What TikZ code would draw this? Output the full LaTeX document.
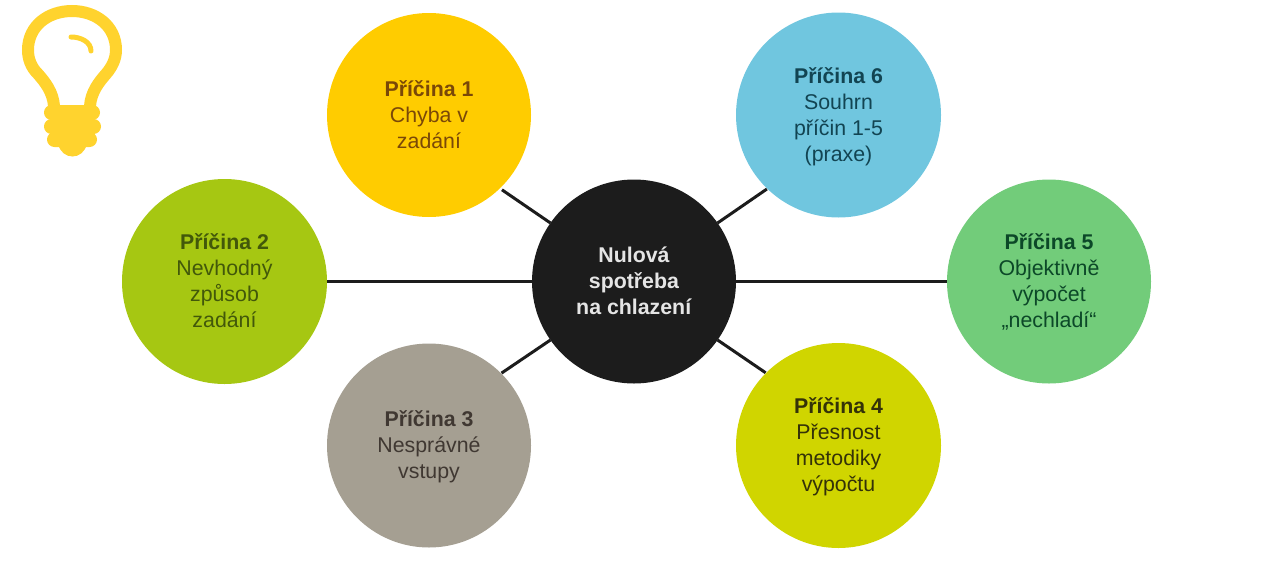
\documentclass[tikz,border=0pt]{standalone}
\usepackage{fontspec}
\setmainfont{Liberation Sans}
\definecolor{hubcol}{HTML}{1C1C1C}
\definecolor{bulbcol}{HTML}{FFD32E}
\tikzset{
  causenode/.style={circle,minimum size=204pt,inner sep=0pt,outer sep=0pt,align=center,
    font=\fontsize{21.33}{26}\selectfont},
  spoke/.style={draw=hubcol,line width=3pt},
  gapspoke/.style={spoke,shorten >=2.5pt},
  nearspoke/.style={spoke,shorten >=0.5pt}
}
\begin{document}
\begin{tikzpicture}[x=1pt,y=-1pt]
    \useasboundingbox (0,0) rectangle (1263,576);
    % circles
    \node[causenode,fill=hubcol,text=white!90!black] (hub) at (634,281.5) {\textbf{Nulová}\\\textbf{spotřeba}\\\textbf{na chlazení}\rule[-2pt]{0pt}{1pt}};
    \node[causenode,fill={rgb,255:red,255;green,204;blue,0},text={rgb,255:red,122;green,72;blue,8}] (cause1) at (429,115) {\textbf{Příčina 1}\\Chyba v\\zadání};
    \node[causenode,minimum size=205pt,fill={rgb,255:red,166;green,199;blue,18},text={rgb,255:red,66;green,88;blue,10}] (cause2) at (224.5,281.5) {\textbf{Příčina 2}\\Nevhodný\\způsob\\zadání\rule[-1pt]{0pt}{1pt}};
    \node[causenode,fill={rgb,255:red,165;green,159;blue,146},text={rgb,255:red,64;green,56;blue,50}] (cause3) at (429,445.5) {\rule{0pt}{18pt}\textbf{Příčina 3}\\Nesprávné\\vstupy};
    \node[causenode,minimum size=205pt,fill={rgb,255:red,208;green,213;blue,0},text={rgb,255:red,52;green,50;blue,8}] (cause4) at (838.5,445.5) {\rule{0pt}{18pt}\textbf{Příčina 4}\\Přesnost\\metodiky\\výpočtu};
    \node[causenode,fill={rgb,255:red,114;green,204;blue,122},text={rgb,255:red,12;green,72;blue,40}] (cause5) at (1049,281.5) {\textbf{Příčina 5}\\Objektivně\\výpočet\\„nechladí“\rule[-2pt]{0pt}{1pt}};
    \node[causenode,minimum size=205pt,fill={rgb,255:red,112;green,198;blue,223},text={rgb,255:red,18;green,68;blue,82}] (cause6) at (838.5,115) {\rule{0pt}{20pt}\textbf{Příčina 6}\\Souhrn\\příčin 1-5\\(praxe)};
    % spokes
    \draw[gapspoke] (hub.145) -- (cause1.-46);
    \draw[spoke] (hub.west) -- (cause2.east);
    \draw[nearspoke] (hub.215) -- (cause3.45);
    \draw[nearspoke] (hub.-35) -- (cause4.135);
    \draw[spoke] (hub.east) -- (cause5.west);
    \draw[nearspoke] (hub.35) -- (cause6.226);
    % bulb
    \draw[draw=bulbcol,line width=12pt] (54,106) .. controls (53,92) and (45,82) .. (38,74)
      .. controls (31,67) and (28,59) .. (28,50)
      .. controls (28,26) and (48,11) .. (72,11)
      .. controls (96,11) and (116,26) .. (116,50)
      .. controls (116,59) and (112,67) .. (106,74)
      .. controls (99,82) and (91,92) .. (90,106);
    \draw[draw=bulbcol,line width=5pt,line cap=round] (71,37) .. controls (81,37) and (91,42) .. (91,51);
    \fill[bulbcol,rounded corners=7.4pt] (44,105) rectangle (100,120);
    \fill[bulbcol,rounded corners=7.4pt] (44,119) rectangle (101,134);
    \fill[bulbcol,rounded corners=7.4pt] (47,132) rectangle (97,147);
    \fill[bulbcol] (58,144) .. controls (60,152) and (66,156.5) .. (72.5,156.5)
      .. controls (79,156.5) and (85,152) .. (87,144) -- cycle;
\end{tikzpicture}
\end{document}
